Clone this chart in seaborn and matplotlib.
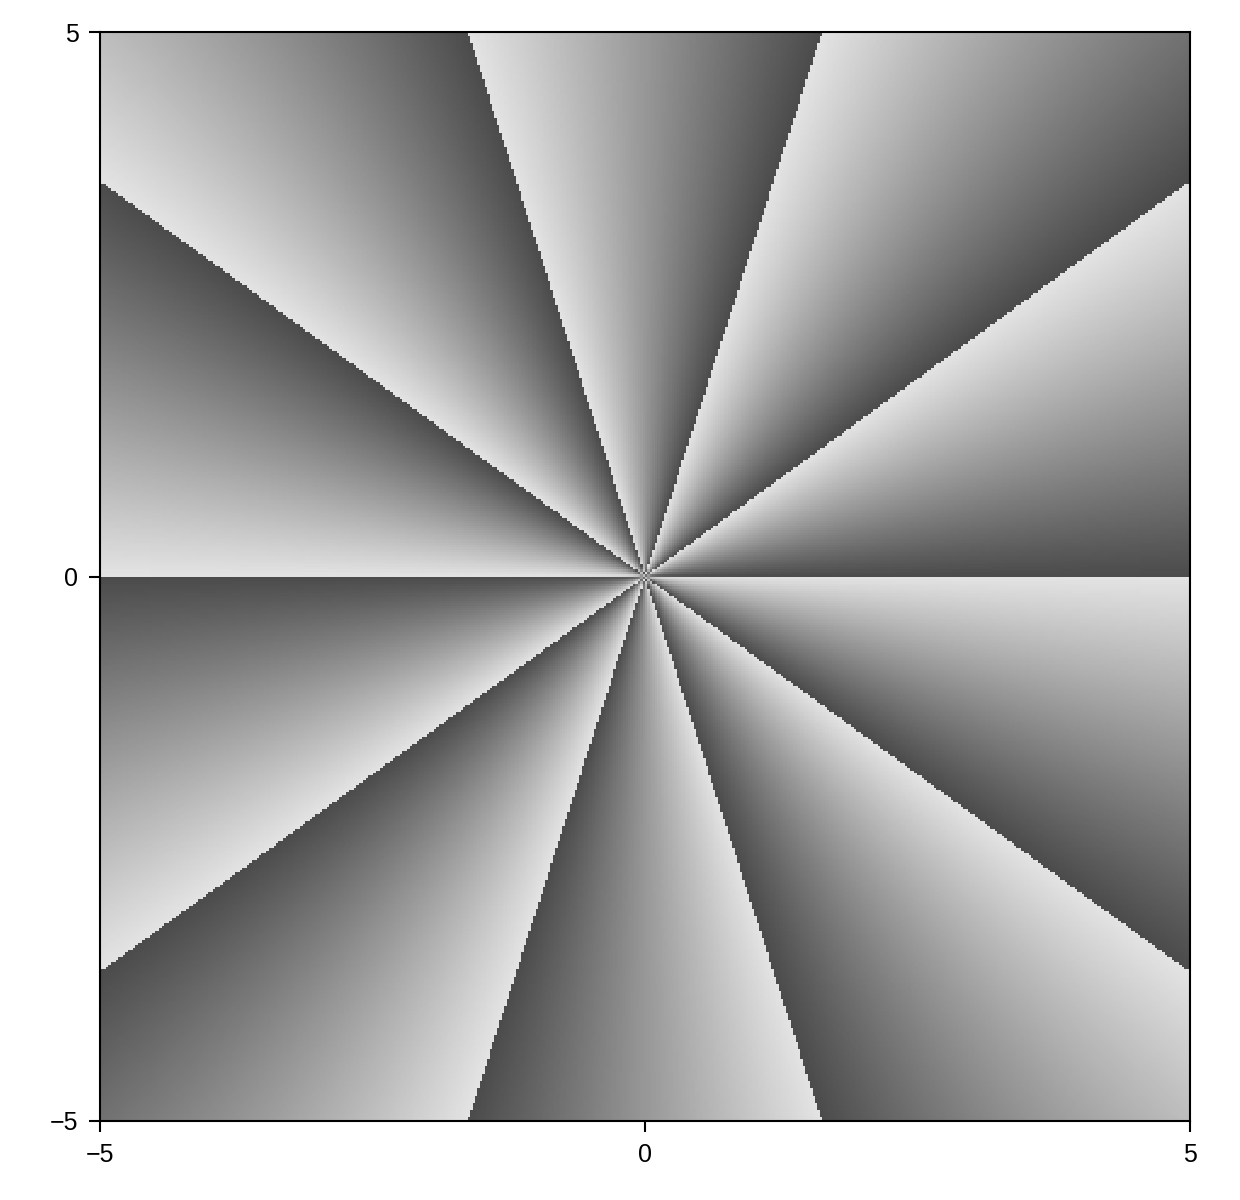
import numpy as np
import matplotlib
matplotlib.use("Agg")
import matplotlib.pyplot as plt
from matplotlib.colors import LinearSegmentedColormap
import seaborn as sns

# ---- data ----
x_limits = [-5, 5]
y_limits = [-5, 5]
x_ticks = [-5, 0, 5]
y_ticks = [-5, 0, 5]
x_tick_labels = ["\u22125", "0", "5"]
y_tick_labels = ["\u22125", "0", "5"]
power = 10           # phase of z**power
grid_points = 450
colors = ["#4b4b4b", "#e3e3e3"]

xs = np.linspace(x_limits[0], x_limits[1], grid_points)
ys = np.linspace(y_limits[0], y_limits[1], grid_points)
X, Y = np.meshgrid(xs, ys)
theta = np.arctan2(Y, X)
phase = np.mod(power * theta, 2 * np.pi)

# ---- style ----
sns.set_theme(style="ticks")
plt.rcParams["font.family"] = ["Liberation Sans", "DejaVu Sans"]
plt.rcParams["axes.linewidth"] = 1.5

cmap = LinearSegmentedColormap.from_list("grays_trunc", colors)

fig = plt.figure(figsize=(12.4, 12.0), dpi=100)
ax = fig.add_axes([100 / 1240, 1 - 1121 / 1200, 1090 / 1240, 1089 / 1200])
ax.pcolormesh(xs, ys, phase, cmap=cmap, vmin=0, vmax=2 * np.pi,
              shading="nearest", rasterized=True)
ax.set_xlim(*x_limits)
ax.set_ylim(*y_limits)
ax.set_xticks(x_ticks)
ax.set_xticklabels(x_tick_labels)
ax.set_yticks(y_ticks)
ax.set_yticklabels(y_tick_labels)
ax.tick_params(axis="both", direction="out", length=8, width=1.5,
               labelsize=18, pad=7.5, colors="black")
for s in ax.spines.values():
    s.set_color("black")
    s.set_linewidth(1.5)
    s.set_visible(True)

fig.savefig("out.png", dpi=100, facecolor="white")
